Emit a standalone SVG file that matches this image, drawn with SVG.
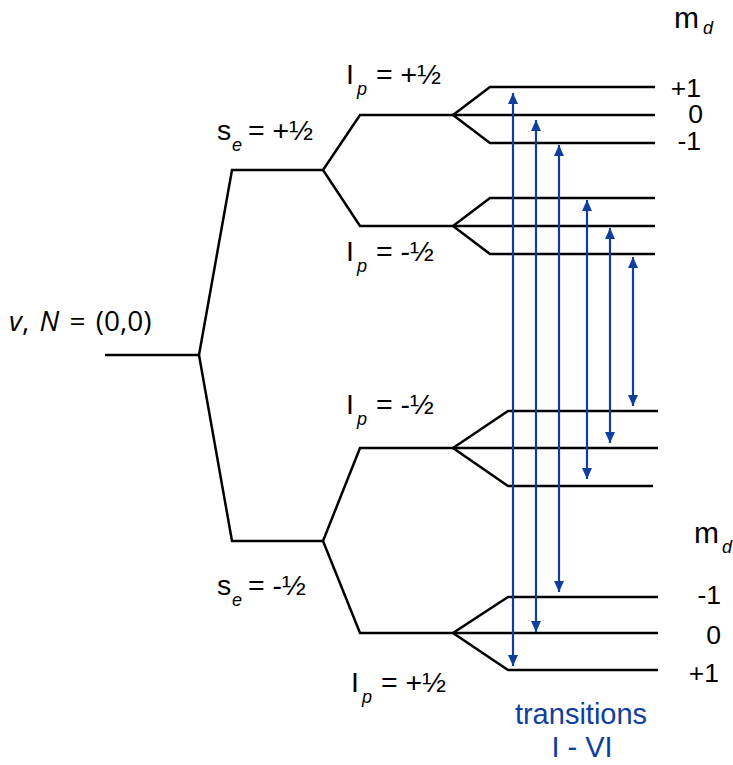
<svg xmlns="http://www.w3.org/2000/svg" width="733" height="765" viewBox="0 0 733 765">
<defs>
<style>
.lv{fill:none;stroke:#000;stroke-width:2.5;stroke-linejoin:miter}
.tr{stroke:#0f3e9e;stroke-width:2.2;fill:none}
.t{font-family:"Liberation Sans",Arial,sans-serif;font-size:28.5px;fill:#000}
.sub{font-family:"Liberation Sans",Arial,sans-serif;font-size:18px;font-style:italic;fill:#000}
.bl{font-family:"Liberation Sans",Arial,sans-serif;font-size:29px;fill:#0f3e9e;text-anchor:middle}
.num{font-family:"Liberation Sans",Arial,sans-serif;font-size:26.5px;fill:#000;text-anchor:end}
</style>
<marker id="ah" markerWidth="11" markerHeight="11" refX="11" refY="5.5" orient="auto-start-reverse" markerUnits="userSpaceOnUse">
<path d="M0,0.5 L11,5.5 L0,10.5 z" fill="#0f3e9e"/>
</marker>
</defs>
<rect width="733" height="765" fill="#fff"/>

<g id="levels">
<g id="ground"><path class="lv" d="M105,355 H199"/></g>
<g id="se-split"><polyline class="lv" points="323,170 232,170 199,355 232,541 323,541"/></g>
<g id="ip-upper"><polyline class="lv" points="453,115 360,115 323,170 360,226 453,226"/></g>
<g id="ip-lower"><polyline class="lv" points="453,448 360,448 323,541 360,633 453,633"/></g>
<g id="md-1"><polyline class="lv" points="655,87 490,87 453,115 490,143 655,143"/><path class="lv" d="M453,115 H655"/></g>
<g id="md-2"><polyline class="lv" points="655,198 490,198 453,226 490,254 655,254"/><path class="lv" d="M453,226 H655"/></g>
<g id="md-3"><polyline class="lv" points="658,411 508,411 453,448 508,486 653,486"/><path class="lv" d="M453,448 H658"/></g>
<g id="md-4"><polyline class="lv" points="658,597 508,597 453,633 508,670 658,670"/><path class="lv" d="M453,633 H658"/></g>
</g>

<g id="connectors">
<line class="tr" x1="513" y1="93" x2="513" y2="666" marker-start="url(#ah)" marker-end="url(#ah)"/>
<line class="tr" x1="536" y1="120" x2="536" y2="632" marker-start="url(#ah)" marker-end="url(#ah)"/>
<line class="tr" x1="559" y1="145" x2="559" y2="592" marker-start="url(#ah)" marker-end="url(#ah)"/>
<line class="tr" x1="587" y1="200" x2="587" y2="479" marker-start="url(#ah)" marker-end="url(#ah)"/>
<line class="tr" x1="610" y1="228" x2="610" y2="443" marker-start="url(#ah)" marker-end="url(#ah)"/>
<line class="tr" x1="633" y1="257" x2="633" y2="406" marker-start="url(#ah)" marker-end="url(#ah)"/>
</g>

<g id="labels">
<text x="9" y="331" style="font-family:'Open Sans',sans-serif;font-size:28px;fill:#000;word-spacing:3px"><tspan font-style="italic">v</tspan>, <tspan font-style="italic">N</tspan> = (0,0)</text>

<g id="lbl-se-plus"><text class="t" x="217" y="140">s</text><text class="sub" x="232" y="151">e</text><text class="t" x="248" y="140">= +½</text></g>
<g id="lbl-se-minus"><text class="t" x="217" y="595">s</text><text class="sub" x="232" y="606">e</text><text class="t" x="248" y="595">= -½</text></g>

<g id="lbl-ip-1"><text class="t" x="346" y="84">I</text><text class="sub" x="357" y="95">p</text><text class="t" x="376" y="84">= +½</text></g>
<g id="lbl-ip-2"><text class="t" x="346" y="261">I</text><text class="sub" x="357" y="272">p</text><text class="t" x="376" y="261">= -½</text></g>
<g id="lbl-ip-3"><text class="t" x="346" y="414">I</text><text class="sub" x="357" y="425">p</text><text class="t" x="376" y="414">= -½</text></g>
<g id="lbl-ip-4"><text class="t" x="351" y="692">I</text><text class="sub" x="362" y="703">p</text><text class="t" x="381" y="692">= +½</text></g>

<g id="md-top"><text class="t" x="674" y="28" style="font-size:30px">m</text><text class="sub" x="703" y="34">d</text>
<text class="num" x="701" y="97">+1</text><text class="num" x="703" y="123">0</text><text class="num" x="701" y="150">-1</text></g>
<g id="md-bottom"><text class="t" x="694" y="543" style="font-size:30px">m</text><text class="sub" x="722" y="553">d</text>
<text class="num" x="721" y="604">-1</text><text class="num" x="721" y="644">0</text><text class="num" x="719" y="682">+1</text></g>

<text class="bl" x="581" y="724">transitions</text>
<text class="bl" x="582" y="757">I - VI</text>
</g>
</svg>
